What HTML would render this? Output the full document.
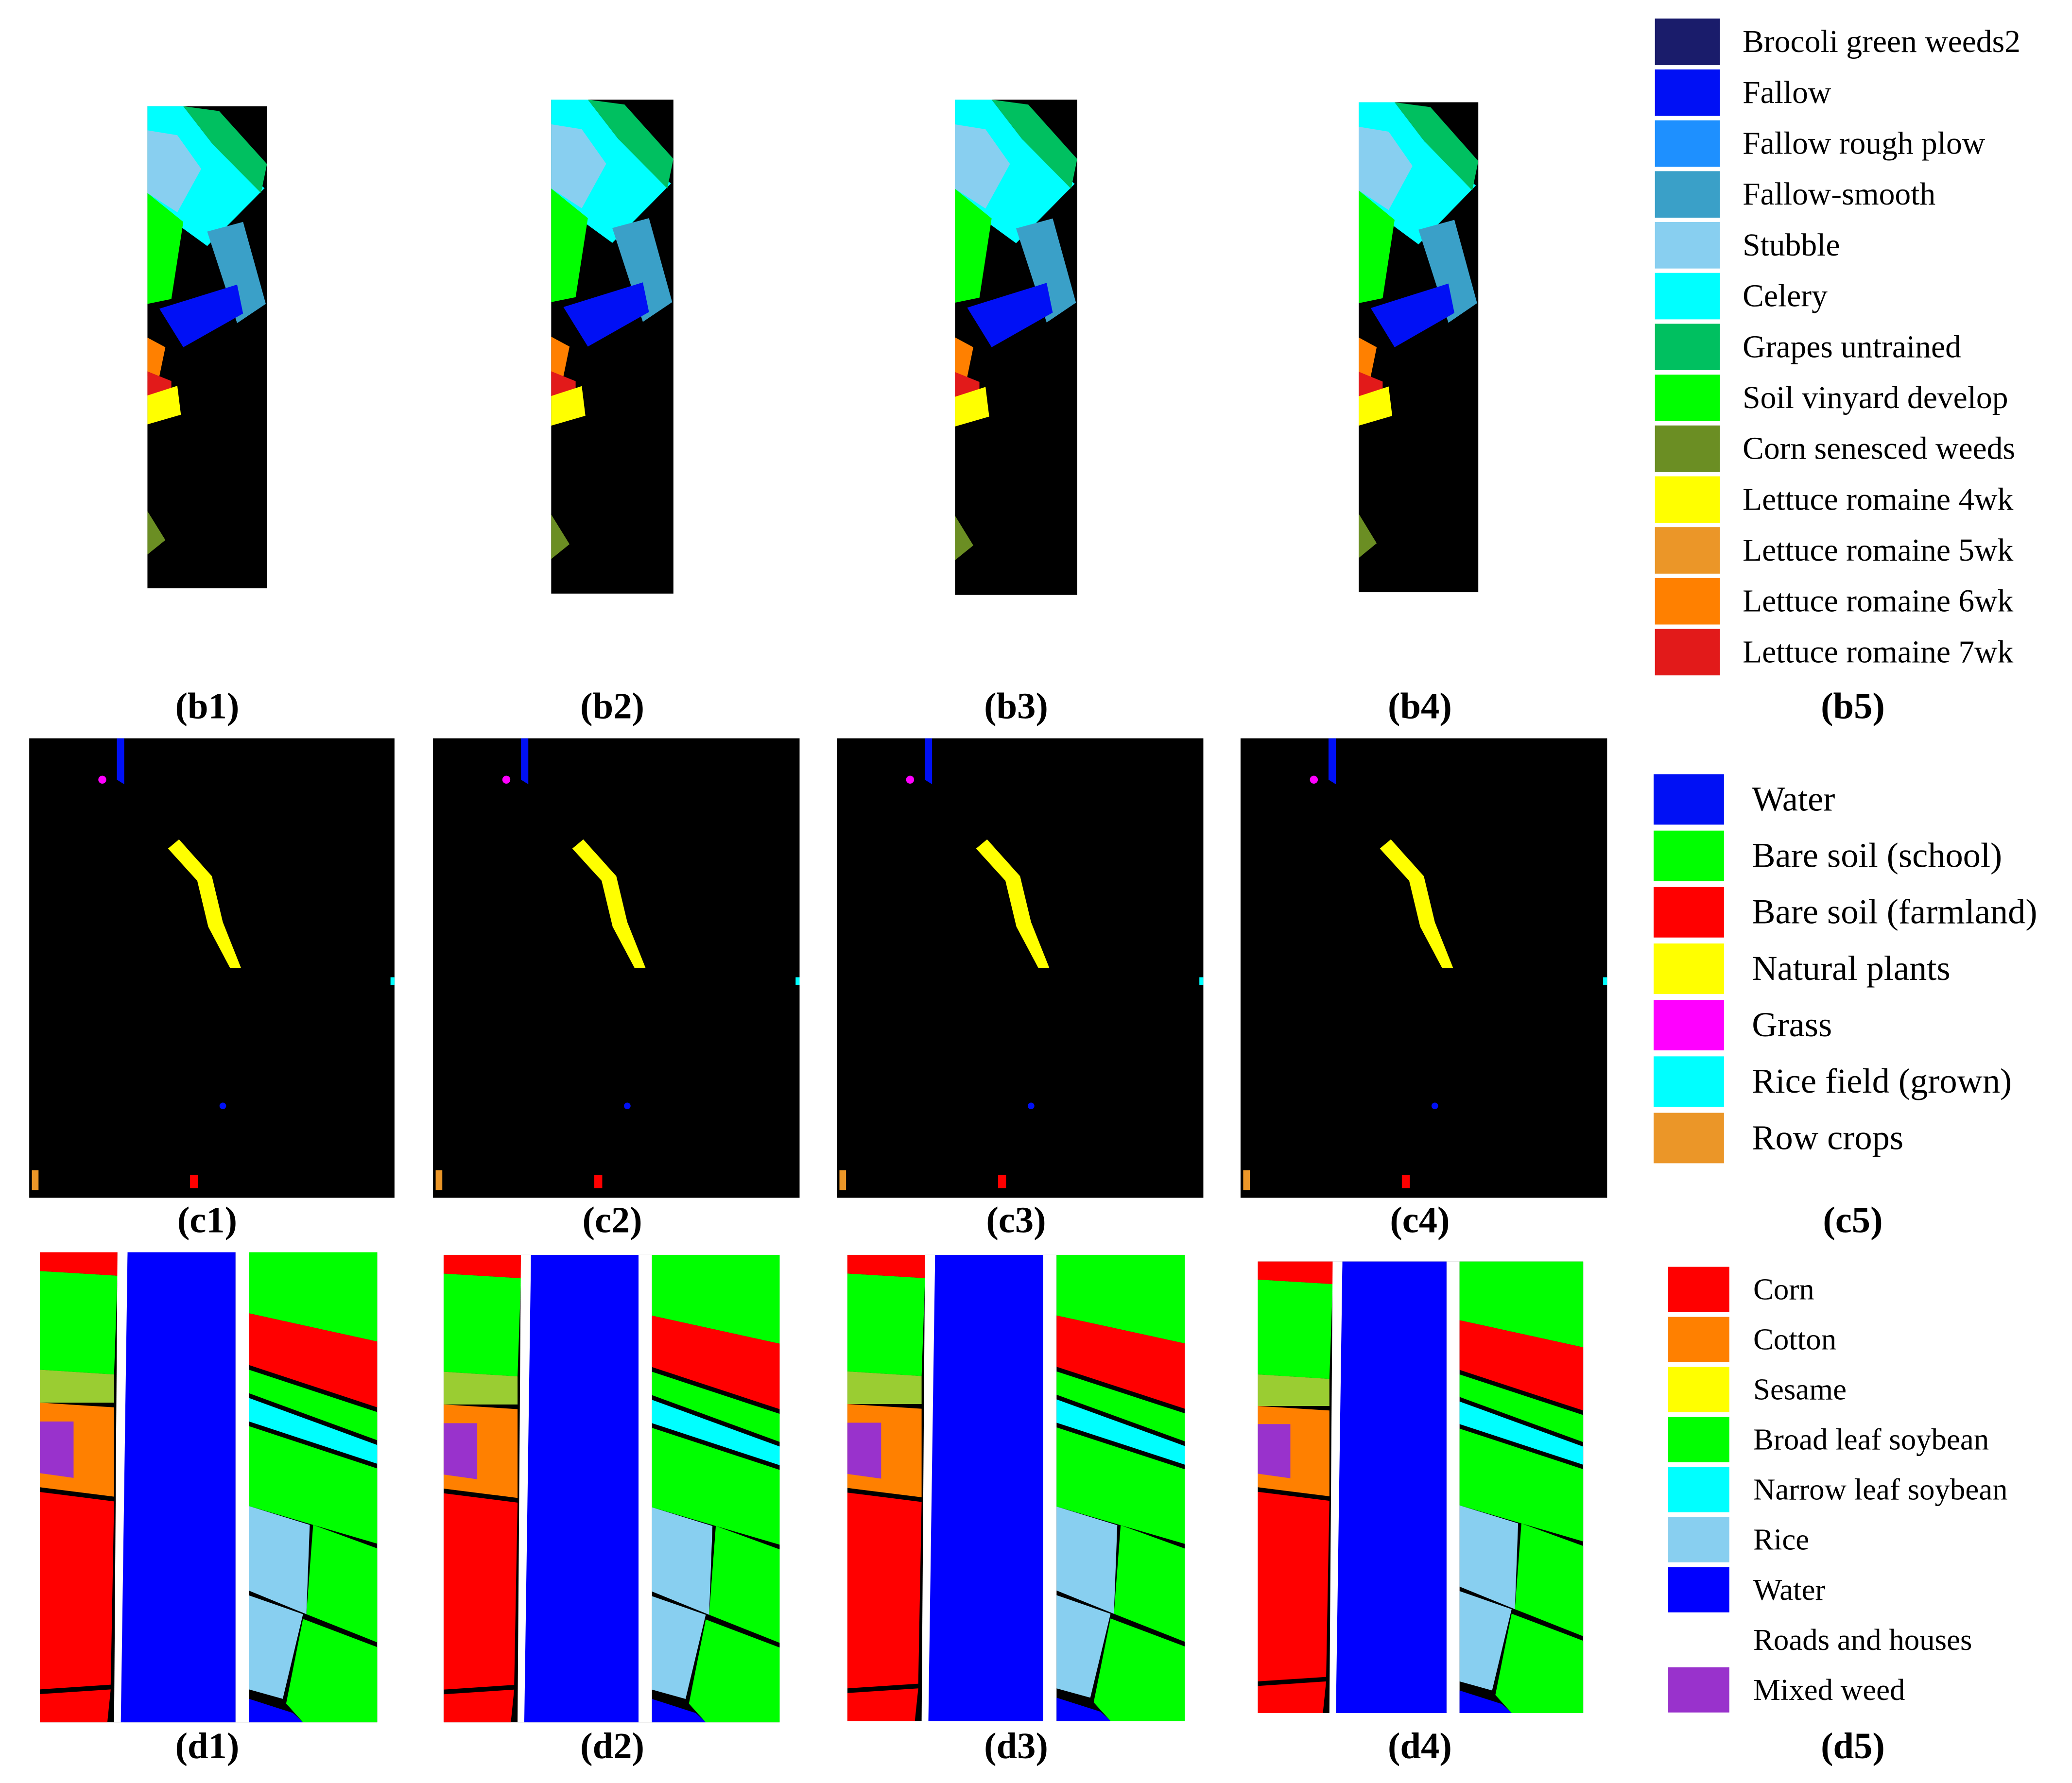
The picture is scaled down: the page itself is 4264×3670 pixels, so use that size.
<!DOCTYPE html>
<html><head><meta charset="utf-8">
<style>
html,body{margin:0;padding:0;background:#fff;}
svg{display:block;}
text{font-family:"Liberation Serif",serif;}
</style></head>
<body>
<svg id="fig" width="4264" height="3670" viewBox="0 0 1560 1342.7" xmlns="http://www.w3.org/2000/svg"></svg>
<script>
const bClasses=["Brocoli green weeds2","Fallow","Fallow rough plow","Fallow-smooth","Stubble","Celery","Grapes untrained","Soil vinyard develop","Corn senesced weeds","Lettuce romaine 4wk","Lettuce romaine 5wk","Lettuce romaine 6wk","Lettuce romaine 7wk"];
const bColors=["#1a1c6b","#0010f5","#1e90ff","#3aa0c8","#88cff0","#00ffff","#00c060","#00ff00","#6b8e23","#ffff00","#eb9628","#ff8000","#e21a1a"];
const cClasses=["Water","Bare soil (school)","Bare soil (farmland)","Natural plants","Grass","Rice field (grown)","Row crops"];
const cColors=["#0010f5","#00ff00","#ff0000","#ffff00","#ff00ff","#00ffff","#eb9628"];
const dClasses=["Corn","Cotton","Sesame","Broad leaf soybean","Narrow leaf soybean","Rice","Water","Roads and houses","Mixed weed"];
const dColors=["#ff0000","#ff8000","#ffff00","#00ff00","#00ffff","#88cff0","#0000ff","#ffffff","#9932cc"];
const panelLabels=["b1","b2","b3","b4","b5","c1","c2","c3","c4","c5","d1","d2","d3","d4","d5"];

const svg=document.getElementById('fig');
const NS="http://www.w3.org/2000/svg";
function mk(tag,attrs,parent){const e=document.createElementNS(NS,tag);for(const k in attrs)e.setAttribute(k,attrs[k]);(parent||svg).appendChild(e);return e;}

const bBoxes=[[111,80,90,363],[415,75,92,372],[719,75,92,373],[1023,77,90,369]];
const bShapes=[
 ["#00ffff",[[0,0],[0.3,0],[0.55,0.08],[0.98,0.17],[0.5,0.29],[0,0.2]]],
 ["#00c060",[[0.3,0],[0.6,0.01],[1,0.12],[0.95,0.18],[0.55,0.08]]],
 ["#88cff0",[[0,0.05],[0.25,0.06],[0.45,0.13],[0.25,0.22],[0,0.18]]],
 ["#00ff00",[[0,0.18],[0.3,0.24],[0.2,0.4],[0,0.41]]],
 ["#3aa0c8",[[0.5,0.26],[0.8,0.24],[0.99,0.41],[0.75,0.45]]],
 ["#0010f5",[[0.1,0.42],[0.75,0.37],[0.8,0.43],[0.3,0.5]]],
 ["#ff8000",[[0,0.48],[0.15,0.5],[0.1,0.56],[0,0.56]]],
 ["#e21a1a",[[0,0.55],[0.2,0.57],[0.2,0.6],[0,0.6]]],
 ["#ffff00",[[0,0.6],[0.25,0.58],[0.28,0.64],[0,0.66]]],
 ["#6b8e23",[[0,0.84],[0.15,0.9],[0,0.93]]]
];
bBoxes.forEach((b,i)=>{
 const g=mk('g',{});
 
 
 mk('rect',{x:b[0],y:b[1],width:b[2],height:b[3],fill:'#000'},g);
 bShapes.forEach(s=>{mk('polygon',{fill:s[0],points:s[1].map(p=>(b[0]+p[0]*b[2])+','+(b[1]+p[1]*b[3])).join(' ')},g);});
});

const cBoxes=[[22,556,275,346],[326,556,276,346],[630,556,276,346],[934,556,276,346]];
cBoxes.forEach((b,i)=>{
 const g=mk('g',{});
 
 
 mk('rect',{x:b[0],y:b[1],width:b[2],height:b[3],fill:'#000'},g);
 const P=(u,v)=>(b[0]+u*b[2])+','+(b[1]+v*b[3]);
 mk('polygon',{fill:'#ffff00',points:[P(0.38,0.24),P(0.41,0.22),P(0.5,0.3),P(0.53,0.4),P(0.58,0.5),P(0.55,0.5),P(0.49,0.41),P(0.46,0.31)].join(' ')},g);
 mk('polygon',{fill:'#0010f5',points:[P(0.24,0),P(0.26,0),P(0.26,0.1),P(0.24,0.09)].join(' ')},g);
 mk('circle',{cx:b[0]+0.2*b[2],cy:b[1]+0.09*b[3],r:3,fill:'#ff00ff'},g);
 mk('circle',{cx:b[0]+0.53*b[2],cy:b[1]+0.8*b[3],r:2.5,fill:'#0010f5'},g);
 mk('rect',{x:b[0]+2,y:b[1]+0.94*b[3],width:5,height:15,fill:'#eb9628'},g);
 mk('rect',{x:b[0]+0.44*b[2],y:b[1]+0.95*b[3],width:6,height:10,fill:'#ff0000'},g);
 mk('rect',{x:b[0]+b[2]-3,y:b[1]+0.52*b[3],width:3,height:6,fill:'#00ffff'},g);
});

const dBoxes=[[30,943,254,354],[334,945,253,352],[638,945,254,351],[947,950,245,340]];
const dShapes=[
 ["#ff0000",[[0,0],[0.23,0],[0.23,0.05],[0,0.04]]],
 ["#00ff00",[[0,0.04],[0.23,0.05],[0.22,0.26],[0,0.25]]],
 ["#9acd32",[[0,0.25],[0.22,0.26],[0.22,0.32],[0,0.32]]],
 ["#ff8000",[[0,0.32],[0.22,0.33],[0.22,0.52],[0,0.5]]],
 ["#9932cc",[[0,0.36],[0.1,0.36],[0.1,0.48],[0,0.47]]],
 ["#ff0000",[[0,0.51],[0.22,0.53],[0.21,0.92],[0,0.93]]],
 ["#ff0000",[[0,0.94],[0.21,0.93],[0.2,1],[0,1]]],
 ["#ffffff",[[0.23,0],[0.26,0],[0.25,1],[0.22,1]]],
 ["#0000ff",[[0.26,0],[0.58,0],[0.58,1],[0.24,1]]],
 ["#ffffff",[[0.58,0],[0.62,0],[0.62,1],[0.58,1]]],
 ["#00ff00",[[0.62,0],[1,0],[1,0.19],[0.62,0.13]]],
 ["#ff0000",[[0.62,0.13],[1,0.19],[1,0.33],[0.62,0.24]]],
 ["#00ff00",[[0.62,0.25],[1,0.34],[1,0.4],[0.62,0.3]]],
 ["#00ffff",[[0.62,0.31],[1,0.41],[1,0.45],[0.62,0.36]]],
 ["#00ff00",[[0.62,0.37],[1,0.46],[1,0.62],[0.62,0.54]]],
 ["#88cff0",[[0.62,0.54],[0.8,0.58],[0.79,0.77],[0.62,0.72]]],
 ["#00ff00",[[0.81,0.58],[1,0.63],[1,0.83],[0.79,0.77]]],
 ["#88cff0",[[0.62,0.73],[0.78,0.77],[0.72,0.95],[0.62,0.93]]],
 ["#00ff00",[[0.78,0.78],[1,0.84],[1,1],[0.78,1],[0.73,0.96]]],
 ["#0000ff",[[0.62,0.95],[0.75,0.98],[0.78,1],[0.62,1]]]
];
dBoxes.forEach((b,i)=>{
 const g=mk('g',{});
 
 
 mk('rect',{x:b[0],y:b[1],width:b[2],height:b[3],fill:'#000'},g);
 dShapes.forEach(s=>{mk('polygon',{fill:s[0],points:s[1].map(p=>(b[0]+p[0]*b[2])+','+(b[1]+p[1]*b[3])).join(' ')},g);});
});

function legend(names,colors,x,y0,step,sw,sh,tx,fs,nm){
 const g=mk('g',{});
 
 
 names.forEach((n,i)=>{
  const y=y0+i*step;
  const r=mk('rect',{x:x,y:y,width:sw,height:sh,fill:colors[i]},g);
  
  
  const t=mk('text',{x:tx,y:y+sh*0.72,'font-size':fs,fill:'#000'},g);
  t.textContent=n;
  
  
 });
}
legend(bClasses,bColors,1246,14,38.3,49,35,1312,24,'legend-b5');
legend(cClasses,cColors,1245,583,42.5,53,38,1319,26.5,'legend-c5');
legend(dClasses,dColors,1256,954,37.7,46,34,1320,23,'legend-d5');

const lx=[156,461,765,1069,1395];
const ly=[547,934,1330];
panelLabels.forEach((l,i)=>{
 const t=mk('text',{x:lx[i%5],y:ly[Math.floor(i/5)]-6,'font-size':28,'font-weight':'bold','text-anchor':'middle',fill:'#000'});
 t.textContent='('+l+')';
 
 
});
</script>
</body></html>
